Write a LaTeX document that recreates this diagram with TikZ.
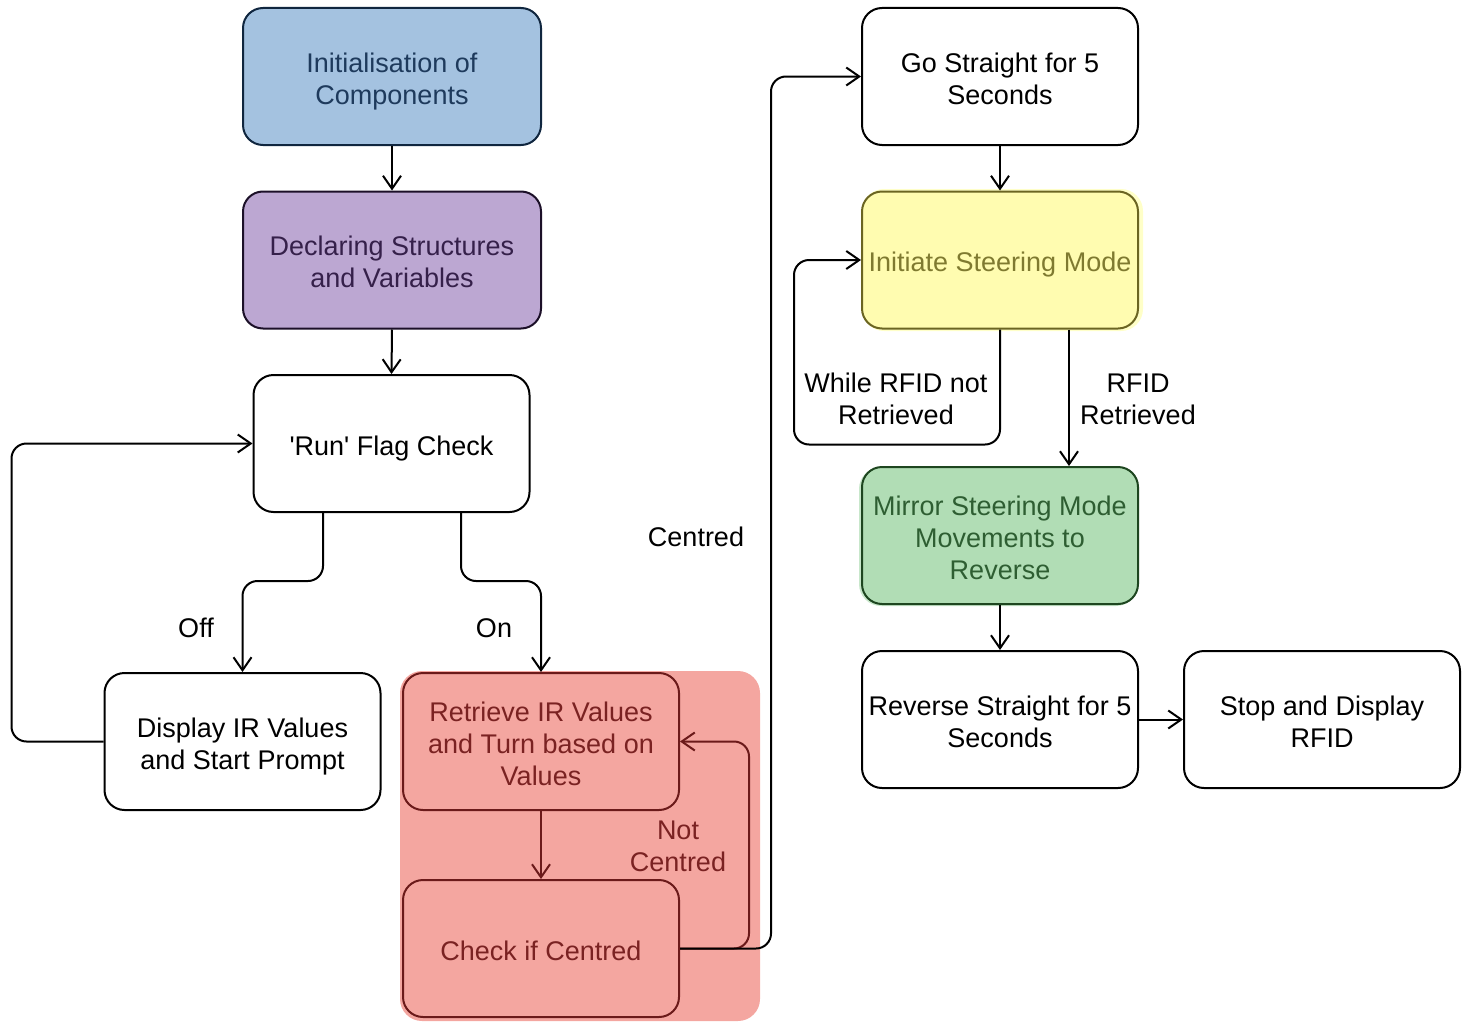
\documentclass[tikz,border=0pt]{standalone}
\usepackage{fontspec}
\setmainfont{Liberation Sans}
\usetikzlibrary{arrows.meta,calc}
\definecolor{bluefill}{HTML}{A4C2E0}
\definecolor{bluetext}{HTML}{1E3A5C}
\definecolor{blueline}{HTML}{10263F}
\definecolor{purpfill}{HTML}{BCA7D2}
\definecolor{purptext}{HTML}{35204A}
\definecolor{purpline}{HTML}{1C1028}
\definecolor{redfill}{HTML}{F4A6A0}
\definecolor{redline}{HTML}{6B1A1A}
\definecolor{redtext}{HTML}{7A2222}
\definecolor{yelfill}{HTML}{FFFCB0}
\definecolor{yelline}{HTML}{6B6522}
\definecolor{yeltext}{HTML}{7F7A30}
\definecolor{yelglow}{HTML}{FFFFC8}
\definecolor{grnfill}{HTML}{B1DDB5}
\definecolor{grnline}{HTML}{1E4620}
\definecolor{grntext}{HTML}{2E5E32}
\newcommand{\topst}{\rule{0pt}{30pt}}
\newcommand{\botst}{\rule[-7pt]{0pt}{0pt}}
\tikzset{
  box/.style={draw=black, line width=2pt, rounded corners=20pt, fill=white,
    minimum width=276pt, minimum height=137pt, inner sep=0pt, align=center,
    font=\fontsize{27}{32}\selectfont},
  lbl/.style={inner sep=0pt, align=center, font=\fontsize{27}{32}\selectfont},
  arr/.style={line width=2pt, rounded corners=15pt, -{Straight Barb[length=13pt,width=18pt,line width=2pt]}},
  redbox/.style={box, fill=redfill, draw=redline, text=redtext},
}
\begin{document}
\begin{tikzpicture}[x=1pt,y=-1pt]
\useasboundingbox (0,0) rectangle (1466,1025);
% group background
\fill[redfill, rounded corners=22pt] (400,671) rectangle (760,1021);
% glows
\fill[yelglow, rounded corners=22pt] (862,189) rectangle (1143,331);
\fill[grnfill!70, rounded corners=22pt] (859,467) rectangle (1138,606);

\node[box, fill=bluefill, draw=blueline, text=bluetext, minimum width=298pt] (init) at (392,76.5) {\topst Initialisation of\\Components\botst};
\node[box, fill=purpfill, draw=purpline, text=purptext, minimum width=298pt] (decl) at (392,260) {\topst Declaring Structures\\and Variables\botst};
\node[box] (run) at (391.5,443.5) {\topst\textquotesingle Run\textquotesingle{} Flag Check\botst};
\node[box] (disp) at (242.5,741.5) {\topst Display IR Values\\and Start Prompt\botst};
\node[redbox] (ret) at (541,741.5) {\topst Retrieve IR Values\\and Turn based on\\Values\botst};
\node[redbox] (chk) at (541,948.5) {\topst Check if Centred\botst};
\node[box] (go) at (1000,76.5) {\topst Go Straight for 5\\Seconds\botst};
\node[box, fill=yelfill, draw=yelline, text=yeltext] (ism) at (1000,260) {\topst Initiate Steering Mode\botst};
\node[box, fill=grnfill, draw=grnline, text=grntext] (mir) at (1000,535.5) {\topst Mirror Steering Mode\\Movements to\\Reverse\botst};
\node[box] (rev) at (1000,719.5) {\topst Reverse Straight for 5\\Seconds\botst};
\node[box] (stop) at (1322,719.5) {\topst Stop and Display\\RFID\botst};

% labels
\node[lbl] (loff) at (196,628) {Off};
\node[lbl] (lon) at (494,628) {On};
\node[lbl] (lcent) at (696,537) {Centred};
\node[lbl, text=redtext] (lnot) at (678,846) {Not\\Centred};
\node[lbl] (lwhile) at (896,399) {While RFID not\\Retrieved};
\node[lbl] (lrfid) at (1138,399) {RFID\\Retrieved};

% connectors
\draw[arr] (init.south) -- (decl.north);
\draw[arr] (decl.south) -- (run.north);
\draw[arr] ([xshift=-68.5pt]run.south) -- ++(0,68) -| (disp.north);
\draw[arr] ([xshift=69.5pt]run.south) -- ++(0,68) -| (ret.north);
\draw[arr] (disp.west) -- ++(-92,0) |- (run.west);
\draw[arr, draw=redline] (ret.south) -- (chk.north);
\draw[arr, draw=redline] (chk.east) -- ++(69,0) |- (ret.east);
\draw[arr] (chk.east) -- ++(91,0) |- (go.west);
\draw[arr] (go.south) -- (ism.north);
\draw[arr] (ism.south) -- ++(0,115) -- ++(-206,0) |- (ism.west);
\draw[arr] ([xshift=69pt]ism.south) -- ([xshift=69pt]mir.north);
\draw[arr] (mir.south) -- (rev.north);
\draw[arr] (rev.east) -- (stop.west);
\end{tikzpicture}
\end{document}
